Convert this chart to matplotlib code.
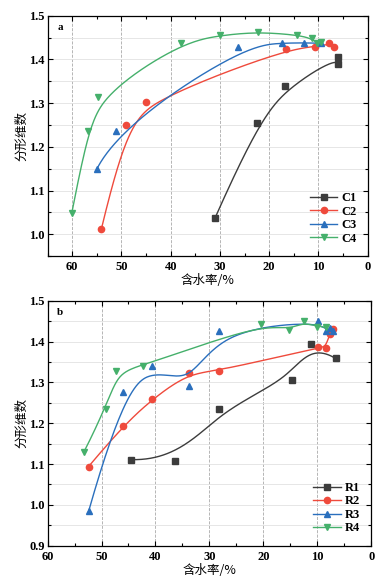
import numpy as np
import matplotlib.pyplot as plt
from matplotlib.ticker import MultipleLocator

# ---------------------- data ----------------------
c1_x = [31.0, 22.4, 16.7, 6.1, 6.1]
c1_y = [1.037, 1.255, 1.339, 1.405, 1.389]
c2_x = [54.1, 49.0, 45.0, 16.5, 10.7, 7.8, 6.8]
c2_y = [1.011, 1.249, 1.303, 1.424, 1.428, 1.437, 1.429]
c3_x = [55.0, 51.2, 26.3, 17.4, 12.9, 9.5]
c3_y = [1.149, 1.236, 1.429, 1.438, 1.438, 1.437]
c4_x = [60.1, 56.8, 54.8, 37.9, 30.0, 22.3, 14.4, 11.3, 10.3, 9.5]
c4_y = [1.048, 1.237, 1.315, 1.438, 1.455, 1.463, 1.456, 1.448, 1.437, 1.440]

r1_x = [44.5, 36.4, 28.3, 14.6, 11.1, 6.6]
r1_y = [1.111, 1.108, 1.235, 1.307, 1.395, 1.359]
r2_x = [52.4, 46.1, 40.6, 33.8, 28.3, 9.8, 8.3, 7.7, 7.1]
r2_y = [1.094, 1.193, 1.260, 1.323, 1.328, 1.386, 1.385, 1.420, 1.432]
r3_x = [52.4, 46.1, 40.6, 33.8, 28.3, 9.8, 8.3, 7.7, 7.1]
r3_y = [0.984, 1.276, 1.341, 1.291, 1.427, 1.451, 1.426, 1.433, 1.426]
r4_x = [53.3, 49.2, 47.4, 42.4, 20.5, 15.2, 12.4, 10.0, 8.3]
r4_y = [1.129, 1.235, 1.327, 1.340, 1.444, 1.428, 1.450, 1.437, 1.435]

colors = ['#3c3c3c', '#ef4a3c', '#2a6fbd', '#45b06b']
markers = ['s', 'o', '^', 'v']


def bspline(x, y, n=300):
    # clamped cubic B-spline with the data points as control points (Origin "B-Spline" line)
    P = np.column_stack([x, y]).astype(float)
    m = len(P)
    k = 3 if m > 3 else m - 1
    inner = np.arange(1, m - k) / (m - k)
    t = np.concatenate([np.zeros(k + 1), inner, np.ones(k + 1)])
    us = np.linspace(0, 1, n)
    out = []
    for u in us:
        if u >= 1.0:
            out.append(P[-1])
            continue
        N = np.array([1.0 if t[i] <= u < t[i + 1] else 0.0 for i in range(len(t) - 1)])
        for d in range(1, k + 1):
            Nn = np.zeros(len(t) - 1 - d)
            for i in range(len(Nn)):
                a = 0.0
                if t[i + d] != t[i]:
                    a += (u - t[i]) / (t[i + d] - t[i]) * N[i]
                if t[i + d + 1] != t[i + 1]:
                    a += (t[i + d + 1] - u) / (t[i + d + 1] - t[i + 1]) * N[i + 1]
                Nn[i] = a
            N = Nn
        out.append(N @ P)
    out = np.array(out)
    return out[:, 0], out[:, 1]


cjk = ['Noto Sans CJK SC', 'DejaVu Sans']
num_font = {'family': 'Liberation Serif', 'weight': 'bold', 'size': 9}

fig = plt.figure(figsize=(3.87, 5.82), dpi=100)
ax1 = fig.add_axes([0.123, 0.560, 0.827, 0.413])
ax2 = fig.add_axes([0.123, 0.0624, 0.836, 0.4206])


def style(ax, xlim, ylim, label):
    ax.set_xlim(*xlim)
    ax.set_ylim(*ylim)
    ax.xaxis.set_major_locator(MultipleLocator(10))
    ax.xaxis.set_minor_locator(MultipleLocator(5))
    ax.yaxis.set_major_locator(MultipleLocator(0.1))
    ax.yaxis.set_minor_locator(MultipleLocator(0.05))
    ax.tick_params(which='both', direction='in', top=True, right=True, width=0.8)
    ax.tick_params(which='major', length=3.5, pad=2)
    ax.tick_params(axis='x', which='major', pad=3.5)
    ax.tick_params(which='minor', length=2)
    for s in ax.spines.values():
        s.set_linewidth(0.9)
    ax.grid(True, axis='x', which='major', ls='--', color='#aaaaaa', lw=0.6)
    ax.grid(True, axis='y', which='both', ls='-', color='#e2e2e2', lw=0.6)
    ax.set_axisbelow(True)
    for lab in ax.get_xticklabels() + ax.get_yticklabels():
        lab.set_fontproperties(num_font)
    ax.set_xlabel('含水率/%', family=cjk, fontsize=9, labelpad=1)
    ax.set_ylabel('分形维数', family=cjk, fontsize=9, labelpad=1)
    ax.text(0.03, 0.97, label, transform=ax.transAxes, ha='left', va='top',
            family='Liberation Serif', weight='bold', fontsize=8)


def draw(ax, series, names):
    for (x, y), name, c, m in zip(series, names, colors, markers):
        bx, by = bspline(x, y)
        ax.plot(bx, by, color=c, lw=1.0)
        ax.plot(x, y, ls='none', marker=m, color=c, ms=4.5)
        ax.plot([], [], color=c, lw=1.0, marker=m, ms=4.5, label=name)
    ax.legend(loc='lower right', frameon=False, handlelength=2.2, handletextpad=0.3,
              labelspacing=0.12, borderaxespad=0.5,
              prop={'family': 'Liberation Serif', 'weight': 'bold', 'size': 9})


style(ax1, (65, 0), (0.95, 1.5), 'a')
draw(ax1, [(c1_x, c1_y), (c2_x, c2_y), (c3_x, c3_y), (c4_x, c4_y)], ['C1', 'C2', 'C3', 'C4'])
style(ax2, (60, 0), (0.9, 1.5), 'b')
draw(ax2, [(r1_x, r1_y), (r2_x, r2_y), (r3_x, r3_y), (r4_x, r4_y)], ['R1', 'R2', 'R3', 'R4'])

fig.savefig('out.png', dpi=100)
